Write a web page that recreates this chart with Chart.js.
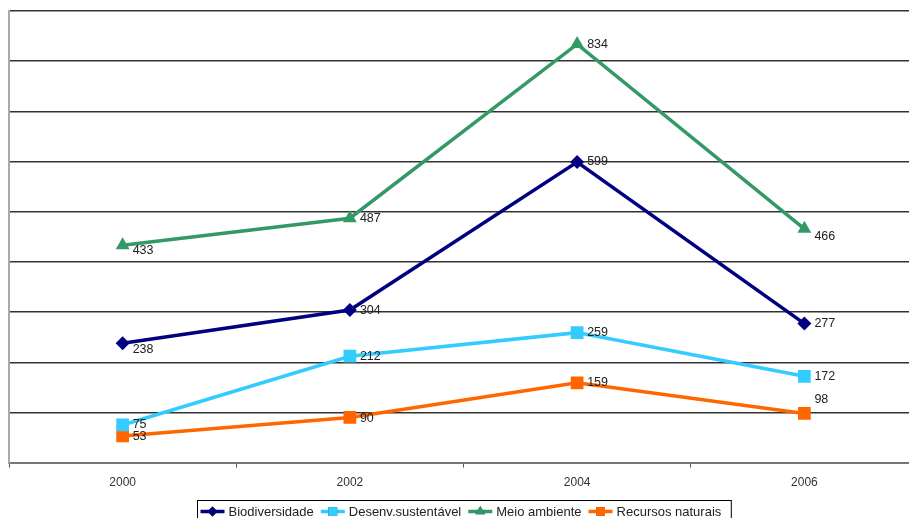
<!DOCTYPE html>
<html>
<head>
<meta charset="utf-8">
<script src="https://cdn.jsdelivr.net/npm/chart.js@4.4.0/dist/chart.umd.min.js"></script>
<style>
  html, body { margin: 0; padding: 0; background: #fff; overflow: hidden; }
  #wrap { width: 928px; height: 530px; }
</style>
</head>
<body>
<div id="wrap"><canvas id="lineChart" width="928" height="530"></canvas></div>
<script>
// Dados do gráfico
const anos = ["2000", "2002", "2004", "2006"];
const biodiversidade = [238, 304, 599, 277];
const desenvSustentavel = [75, 212, 259, 172];
const meioAmbiente = [433, 487, 834, 466];
const recursosNaturais = [53, 90, 159, 98];
const nomes = ["Biodiversidade", "Desenv.sustentável", "Meio ambiente", "Recursos naturais"];

// deslocamento vertical dos rótulos (px), por série e ponto
const ajusteRotulo = [
  [6, 0, 0, 0],
  [0, 0, 0, 0],
  [5, 0, 0, 8],
  [1, 1, 0, -14]
];

function serie(label, valores, cor, estilo, raio) {
  return {
    label: label,
    data: valores,
    borderColor: cor,
    backgroundColor: cor,
    borderWidth: 3.5,
    pointStyle: estilo,
    pointRadius: raio,
    pointHoverRadius: raio,
    pointBorderWidth: 0,
    tension: 0
  };
}

const data = {
  labels: anos,
  datasets: [
    serie(nomes[0], biodiversidade, "#000080", "rectRot", 7),
    serie(nomes[1], desenvSustentavel, "#33CCFF", "rect", 9),
    serie(nomes[2], meioAmbiente, "#339966", "triangle", 8),
    serie(nomes[3], recursosNaturais, "#FF6600", "rect", 9)
  ]
};

// Rótulos de valores + legenda com moldura
const extras = {
  id: "extras",
  afterDatasetsDraw(chart) {
    const ctx = chart.ctx;
    ctx.save();
    ctx.font = "12.5px Arial, 'Liberation Sans', sans-serif";
    ctx.fillStyle = "#222";
    ctx.textAlign = "left";
    ctx.textBaseline = "middle";
    chart.data.datasets.forEach((ds, i) => {
      chart.getDatasetMeta(i).data.forEach((pt, j) => {
        ctx.fillText(String(ds.data[j]), pt.x + 10, pt.y + ajusteRotulo[i][j]);
      });
    });
    ctx.restore();
  },
  afterDraw(chart) {
    const ctx = chart.ctx;
    ctx.save();
    ctx.font = "13px Arial, 'Liberation Sans', sans-serif";
    const seg = 24, gap = 4, espaco = 7;
    let total = 6;
    chart.data.datasets.forEach(ds => {
      total += seg + gap + ctx.measureText(ds.label).width + espaco;
    });
    const x0 = Math.round(chart.width / 2 - total / 2) + 0.5;
    const y0 = 500.5, h = 24;
    ctx.strokeStyle = "#000";
    ctx.lineWidth = 1;
    ctx.strokeRect(x0, y0, total, h);
    let x = x0 + 3;
    const yc = y0 + 11;
    chart.data.datasets.forEach(ds => {
      ctx.strokeStyle = ds.borderColor;
      ctx.lineWidth = 3.5;
      ctx.beginPath();
      ctx.moveTo(x, yc);
      ctx.lineTo(x + seg, yc);
      ctx.stroke();
      Chart.helpers.drawPoint(ctx, { pointStyle: ds.pointStyle, radius: ds.pointRadius * 0.7, rotation: 0, borderWidth: 0 }, x + seg / 2, yc);
      ctx.fillStyle = ds.borderColor;
      ctx.fill();
      ctx.fillStyle = "#222";
      ctx.textBaseline = "middle";
      ctx.fillText(ds.label, x + seg + gap, yc + 1);
      x += seg + gap + ctx.measureText(ds.label).width + espaco;
    });
    ctx.restore();
  }
};

// Configuração do gráfico
const config = {
  type: "line",
  data: data,
  options: {
    responsive: false,
    animation: false,
    layout: { padding: { left: 8, top: 11, right: 10, bottom: 32 } },
    plugins: {
      legend: { display: false },
      tooltip: { enabled: false }
    },
    scales: {
      x: {
        offset: true,
        grid: { offset: true, drawOnChartArea: false, color: "#555", tickLength: 5 },
        border: { color: "#777", width: 2 },
        ticks: { color: "#333", font: { family: "Arial", size: 12 }, padding: 8 }
      },
      y: {
        min: 0,
        max: 900,
        ticks: { stepSize: 100, display: false },
        grid: { color: "#333", lineWidth: 1.4, drawTicks: false },
        border: { color: "#aaa", width: 2 }
      }
    }
  },
  plugins: [extras]
};

// Criar gráfico
const ctx = document.getElementById("lineChart").getContext("2d");
new Chart(ctx, config);
</script>
</body>
</html>
